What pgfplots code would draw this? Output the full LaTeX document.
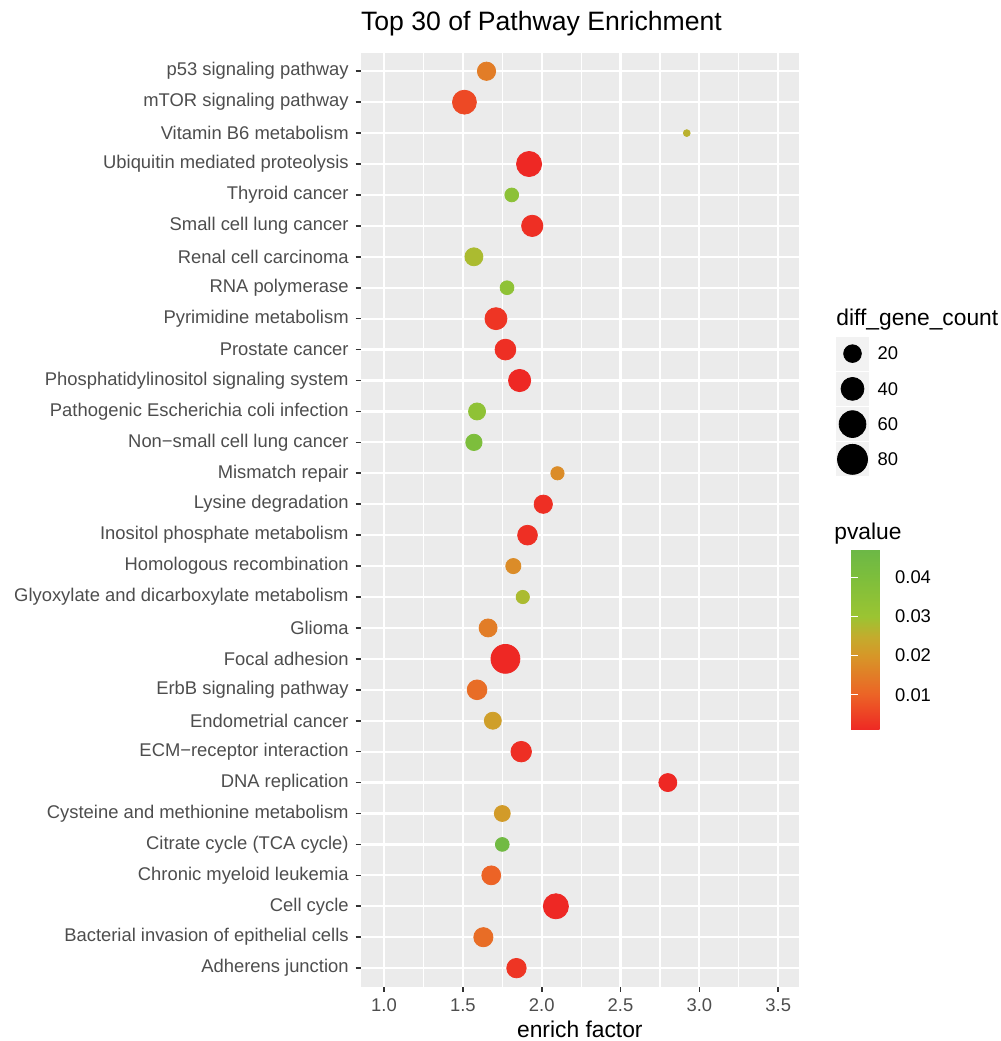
\documentclass[border=0pt]{standalone}
\usepackage{fontspec}
\setmainfont{Liberation Sans}
\usepackage{pgfplots}
\pgfplotsset{compat=1.18}
\usepackage{pgfplotstable}
\definecolor{ggbg}{RGB}{235,235,235}
\definecolor{ggtick}{RGB}{51,51,51}
\definecolor{gglab}{RGB}{77,77,77}
\definecolor{ggkey}{RGB}{242,242,242}

\pgfplotstableread{
idx enrich count pvalue
1  1.84 26 0.003
2  1.63 25 0.012
3  2.09 51 0.001
4  1.68 24 0.010
5  1.75 10 0.045
6  1.75 15 0.021
7  2.80 21 0.001
8  1.87 30 0.002
9  1.69 18 0.022
10 1.59 27 0.012
11 1.77 73 0.001
12 1.66 21 0.015
13 1.88 9  0.028
14 1.82 13 0.018
15 1.91 27 0.002
16 2.01 22 0.002
17 2.10 9  0.018
18 1.57 16 0.040
19 1.59 18 0.034
20 1.86 37 0.001
21 1.77 31 0.002
22 1.71 36 0.003
23 1.78 10 0.034
24 1.57 21 0.028
25 1.94 33 0.002
26 1.81 10 0.035
27 1.92 51 0.001
28 2.92 3  0.026
29 1.51 45 0.006
30 1.65 22 0.015
}\pathways

\pgfplotstableread{
y c
3.5 20
2.5 40
1.5 60
0.5 80
}\sizekeys

\begin{document}
\begin{tikzpicture}
\pgfplotsset{/pgf/number format/assume math mode=true}
\begin{axis}[
  name=main,
  scale only axis, width=219.15pt, height=467pt,
  xmin=0.852, xmax=3.632, ymin=0.4, ymax=30.6,
  axis background/.style={fill=ggbg},
  axis line style={draw=none},
  xtick={1,1.5,2,2.5,3,3.5},
  minor xtick={1.25,1.75,2.25,2.75,3.25},
  xticklabel style={/pgf/number format/fixed, /pgf/number format/fixed zerofill, /pgf/number format/precision=1},
  ytick={1,...,30},
  yticklabels={Adherens junction, Bacterial invasion of epithelial cells, Cell cycle, Chronic myeloid leukemia, Citrate cycle (TCA cycle), Cysteine and methionine metabolism, DNA replication, ECM−receptor interaction, Endometrial cancer, ErbB signaling pathway, Focal adhesion, Glioma, Glyoxylate and dicarboxylate metabolism, Homologous recombination, Inositol phosphate metabolism, Lysine degradation, Mismatch repair, Non−small cell lung cancer, Pathogenic Escherichia coli infection, Phosphatidylinositol signaling system, Prostate cancer, Pyrimidine metabolism, RNA polymerase, Renal cell carcinoma, Small cell lung cancer, Thyroid cancer, Ubiquitin mediated proteolysis, Vitamin B6 metabolism, mTOR signaling pathway, p53 signaling pathway},
  xmajorgrids, xminorgrids, ymajorgrids,
  major grid style={white, line width=1.1pt},
  minor grid style={white, line width=0.55pt},
  tick align=outside, tick pos=left,
  major tick length=2.5pt, minor tick length=0pt,
  tick style={ggtick, line width=0.8pt},
  ticklabel style={gglab, font=\fontsize{9.2}{11}\selectfont},
  xlabel={enrich factor},
  xlabel style={font=\fontsize{11.4}{13}\selectfont, at={(axis description cs:0.5,0)}, anchor=base, yshift=-25.15pt},
  point meta min=0.001, point meta max=0.047,
  colormap={pv}{rgb255(0cm)=(238,40,36); rgb255(20cm)=(236,100,38); rgb255(41cm)=(215,150,40); rgb255(52cm)=(195,172,45); rgb255(63cm)=(155,196,50); rgb255(85cm)=(125,190,60); rgb255(100cm)=(108,184,70)},
  colorbar,
  colorbar style={
    at={(parent axis.north east)}, anchor=north west,
    xshift=17.5pt, yshift=-248.65pt,
    scale only axis, width=18.5pt, height=90pt,
    ytick={0.01,0.02,0.03,0.04},
    scaled y ticks=false,
    yticklabel style={/pgf/number format/fixed, /pgf/number format/fixed zerofill, /pgf/number format/precision=2, black, font=\fontsize{9.2}{11}\selectfont},
    axis line style={draw=none},
    tick align=inside, major tick length=3.5pt,
    ytick style={white, line width=0.6pt},
    ytick pos=both, yticklabel pos=right,
  },
]
\addplot[scatter, only marks, mark=*, scatter src=explicit,
  scatter/use mapped color={draw=mapped color, fill=mapped color},
  visualization depends on={\thisrow{count}\as\cnt},
  scatter/@pre marker code/.append style={/tikz/mark size={1.7+5.8*sqrt((\cnt-3)/77)}}]
  table[x=enrich, y=idx, meta=pvalue]{\pathways};
\end{axis}

\node[anchor=base west, inner sep=0pt, font=\fontsize{13.3}{15}\selectfont] at ([yshift=10.85pt]main.north west) {Top 30 of Pathway Enrichment};

\begin{axis}[
  at={(main.north east)}, anchor=north west,
  xshift=18.5pt, yshift=-141.65pt,
  scale only axis, width=16.5pt, height=70.5pt,
  xmin=0, xmax=1, ymin=0, ymax=4, hide axis, clip=false,
]
\fill[ggkey] (axis cs:0,3.02) rectangle (axis cs:1,3.98);
\fill[ggkey] (axis cs:0,2.02) rectangle (axis cs:1,2.98);
\fill[ggkey] (axis cs:0,1.02) rectangle (axis cs:1,1.98);
\fill[ggkey] (axis cs:0,0.02) rectangle (axis cs:1,0.98);
\addplot[scatter, only marks, mark=*, point meta=y,
  scatter/use mapped color={draw=black, fill=black},
  visualization depends on={\thisrow{c}\as\cnt},
  scatter/@pre marker code/.append style={/tikz/mark size={1.7+5.8*sqrt((\cnt-3)/77)}}]
  table[x expr=0.5, y=y]{\sizekeys};
\node[anchor=west, font=\fontsize{9.2}{11}\selectfont] at (axis cs:1.05,3.5) {20};
\node[anchor=west, font=\fontsize{9.2}{11}\selectfont] at (axis cs:1.05,2.5) {40};
\node[anchor=west, font=\fontsize{9.2}{11}\selectfont] at (axis cs:1.05,1.5) {60};
\node[anchor=west, font=\fontsize{9.2}{11}\selectfont] at (axis cs:1.05,0.5) {80};
\node[anchor=base west, inner sep=0pt, font=\fontsize{11.4}{13}\selectfont] at ([yshift=5pt]rel axis cs:0,1) {diff\_gene\_count};
\end{axis}

\node[anchor=base west, inner sep=0pt, font=\fontsize{11.4}{13}\selectfont] at ([shift={(17.5pt,-243.65pt)}]main.north east) {pvalue};

\pgfresetboundingbox
\path ([shift={(-180.35pt,-27.15pt)}]main.south west) rectangle ([shift={(100.5pt,26.35pt)}]main.north east);
\end{tikzpicture}
\end{document}
